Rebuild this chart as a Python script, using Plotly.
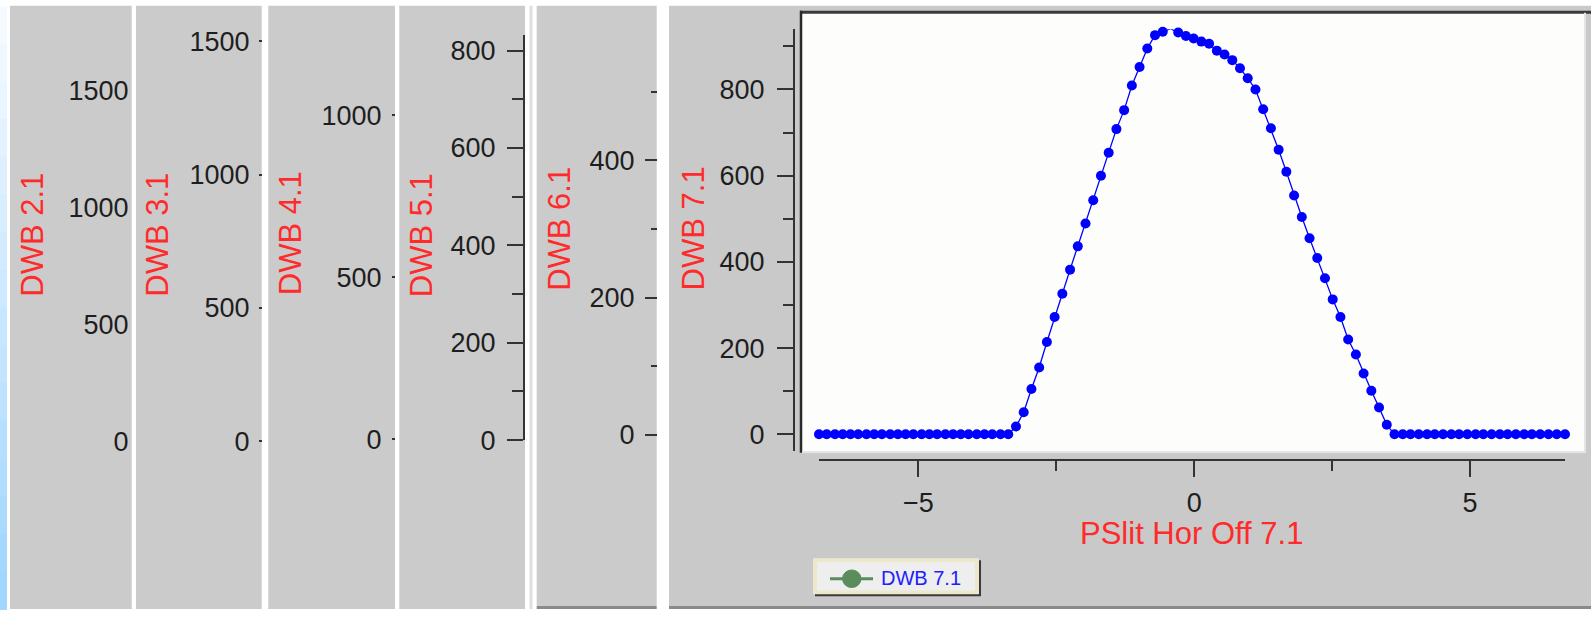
import plotly.graph_objects as go

W, H = 1591, 624
FONT = "Liberation Sans, Arial, sans-serif"

# ---------------- data ----------------
x_values = [
    -6.80, -6.66, -6.51, -6.37, -6.23, -6.09, -5.94, -5.80, -5.66, -5.51, -5.37, -5.23,
    -5.09, -4.94, -4.80, -4.66, -4.51, -4.37, -4.23, -4.09, -3.94, -3.80, -3.66, -3.51,
    -3.37, -3.23, -3.09, -2.95, -2.81, -2.67, -2.53, -2.39, -2.25, -2.11, -1.97, -1.83,
    -1.69, -1.55, -1.41, -1.27, -1.13, -0.99, -0.85, -0.71, -0.57, -0.43, -0.29, -0.15,
    -0.01, 0.13, 0.27, 0.41, 0.55, 0.69, 0.83, 0.97, 1.11, 1.25, 1.39, 1.53,
    1.67, 1.81, 1.95, 2.09, 2.23, 2.37, 2.51, 2.65, 2.79, 2.93, 3.07, 3.21,
    3.35, 3.49, 3.63,
    3.78, 3.92, 4.07, 4.22, 4.36, 4.51, 4.66, 4.80, 4.95, 5.10, 5.24, 5.39,
    5.54, 5.68, 5.83, 5.98, 6.12, 6.27, 6.42, 6.57, 6.72,
]
dwb71_values = [
    0, 0, 0, 0, 0, 0, 0, 0, 0, 0, 0, 0,
    0, 0, 0, 0, 0, 0, 0, 0, 0, 0, 0, 0,
    0, 18, 51, 105, 155, 214, 272, 326, 382, 436, 489, 543,
    600, 653, 708, 752, 809, 852, 895, 926, 934, 941, 932, 924,
    918, 911, 906, 890, 881, 868, 849, 826, 800, 754, 710, 660,
    609, 554, 504, 455, 409, 362, 313, 272, 220, 185, 141, 101,
    62, 22, 0,
    0, 0, 0, 0, 0, 0, 0, 0, 0, 0, 0, 0,
    0, 0, 0, 0, 0, 0, 0, 0, 0,
]

panel_titles = ["DWB 2.1", "DWB 3.1", "DWB 4.1", "DWB 5.1", "DWB 6.1"]
panel_ticks = [
    [0, 500, 1000, 1500],
    [0, 500, 1000, 1500],
    [0, 500, 1000],
    [0, 200, 400, 600, 800],
    [0, 200, 400],
]
main_y_title = "DWB 7.1"
main_x_title = "PSlit Hor Off 7.1"
legend_label = "DWB 7.1"


# ---------------- helpers ----------------
def px(x):
    return x / W


def py(y):
    return 1 - y / H


shapes = []


def rect(x0, y0, x1, y1, color, layer="below", lc=None, lw=0):
    shapes.append(dict(type="rect", xref="paper", yref="paper",
                       x0=px(x0), x1=px(x1), y0=py(y1), y1=py(y0),
                       fillcolor=color, line=dict(width=lw, color=lc or color),
                       layer=layer))


def hline(x0, x1, y, color, w, layer="below"):
    shapes.append(dict(type="line", xref="paper", yref="paper",
                       x0=px(x0), x1=px(x1), y0=py(y), y1=py(y),
                       line=dict(color=color, width=w), layer=layer))


def vline(x, y0, y1, color, w, layer="below"):
    shapes.append(dict(type="line", xref="paper", yref="paper",
                       x0=px(x), x1=px(x), y0=py(y0), y1=py(y1),
                       line=dict(color=color, width=w), layer=layer))


GRAY = "#cbcbcb"

# left gradient strip
n = 16
for i in range(n):
    t = i / (n - 1)
    r = int(245 + (160 - 245) * t)
    g = int(250 + (214 - 250) * t)
    b = 255
    rect(0, 6 + i * (618 / n), 7, 6 + (i + 1) * (618 / n) + 1, f"rgb({r},{g},{b})")

# gray panels
rect(10, 6, 131.7, 624, GRAY)
rect(136, 6, 261.7, 624, GRAY)
rect(268.3, 6, 395, 624, GRAY)
rect(399.3, 6, 525, 624, GRAY)
rect(529.5, 6, 532.5, 624, "#dedede")
rect(536.7, 6, 656.7, 621, GRAY)
rect(669, 6, 1591, 621, "#c9c9c9")
hline(536.7, 656.7, 622.5, "#8a8a8a", 3)
hline(669, 1591, 622.5, "#8a8a8a", 3)

# main plot area
rect(801, 13, 1585, 463, "#fdfefb")
hline(1585, 1591, 13, "#cfcfcf", 1)
hline(800, 1591, 12.5, "#3a3a3a", 3)
vline(801, 11, 464, "#2a2a2a", 2.5)
hline(802, 1585, 463.5, "#e2e2e2", 2)
vline(1585, 13, 464, "#e4e4e4", 2)

# legend box
rect(815, 574, 981, 611, "#3a3a3a", layer="above")
rect(813, 572, 979, 609, "#ece8cc", layer="above")
rect(817, 576, 975, 605, "#eeeeee", layer="above")
hline(830, 873, 593, "#5b8c5b", 3, layer="above")
shapes.append(dict(type="circle", xref="paper", yref="paper",
                   x0=px(842.5), x1=px(861), y0=py(602), y1=py(584),
                   fillcolor="#5b8c5b", line=dict(color="#5b8c5b", width=1),
                   layer="above"))

# ---------------- traces ----------------
fig = go.Figure()
fig.add_trace(go.Scatter(
    x=x_values, y=dwb71_values, mode="lines+markers",
    line=dict(color="#0000ff", width=1.3),
    marker=dict(color="#0000ff", size=10),
    cliponaxis=False, showlegend=False, hoverinfo="skip",
))
for k in range(2, 7):
    fig.add_trace(go.Scatter(x=[None], y=[None], xaxis=f"x{k}", yaxis=f"y{k}",
                             showlegend=False, hoverinfo="skip"))

tickfont = dict(family=FONT, size=27, color="#1e1e1e")
base = dict(showgrid=False, zeroline=False, tickfont=tickfont,
            tickcolor="#333333", tickwidth=2)

layout = dict(
    width=W, height=H, autosize=False,
    margin=dict(l=0, r=0, t=0, b=0, pad=0),
    paper_bgcolor="white", plot_bgcolor="rgba(0,0,0,0)",
    showlegend=False, shapes=shapes,
)

layout["xaxis"] = dict(
    domain=[px(819), px(1565)], range=[-6.80, 6.72], anchor="free", position=py(471),
    tickmode="linear", tick0=0, dtick=5, ticks="outside", ticklen=16,
    ticklabelstandoff=3,
    minor=dict(dtick=2.5, ticks="outside", ticklen=10, tickwidth=2, tickcolor="#333333",
               showgrid=False),
    showline=True, linewidth=2, linecolor="#333333", **base)
layout["yaxis"] = dict(
    domain=[py(462), py(30)], range=[-38.5, 939.6], anchor="free", position=px(794),
    tickmode="linear", tick0=0, dtick=200, ticks="outside", ticklen=16,
    ticklabelstandoff=7,
    minor=dict(dtick=100, ticks="outside", ticklen=10, tickwidth=2, tickcolor="#333333",
               showgrid=False),
    showline=True, linewidth=2, linecolor="#333333", **base)

panel_x = [(10, 131.7), (136, 261.7), (268.3, 395), (399.3, 525), (536.7, 656.7)]
for k in range(2, 7):
    l, r = panel_x[k - 2]
    layout[f"xaxis{k}"] = dict(domain=[px(l), px(r)], range=[0, 1], visible=False,
                               anchor=f"y{k}")

# DWB 2.1 : labels only
layout["yaxis2"] = dict(domain=[py(460), py(10)], range=[-33.4, 1844], anchor="free",
                        position=px(128.5), tickmode="array", tickvals=panel_ticks[0],
                        ticks="", **base)
# DWB 3.1 : tiny ticks
layout["yaxis3"] = dict(domain=[py(460), py(10)], range=[-29.3, 1619], anchor="free",
                        position=px(262), tickmode="array", tickvals=panel_ticks[1],
                        ticks="outside", ticklen=3, ticklabelstandoff=4, **base)
# DWB 4.1 : tiny ticks
layout["yaxis4"] = dict(domain=[py(460), py(10)], range=[-29.5, 1326], anchor="free",
                        position=px(395), tickmode="array", tickvals=panel_ticks[2],
                        ticks="outside", ticklen=3, ticklabelstandoff=5, **base)
# DWB 5.1 : full axis with line and minor ticks
layout["yaxis5"] = dict(domain=[py(451), py(36)], range=[0, 831.7], anchor="free",
                        position=px(524), tickmode="array", tickvals=panel_ticks[3],
                        ticks="outside", ticklen=16, ticklabelstandoff=6,
                        minor=dict(dtick=100, tick0=0, ticks="outside", ticklen=11,
                                   tickwidth=2, tickcolor="#333333", showgrid=False),
                        showline=True, linewidth=2, linecolor="#333333", **base)
# DWB 6.1 : ticks, no line
layout["yaxis6"] = dict(domain=[py(447), py(60)], range=[-1.85, 548.3], anchor="free",
                        position=px(657), tickmode="array", tickvals=panel_ticks[4],
                        ticks="outside", ticklen=12, ticklabelstandoff=5,
                        minor=dict(dtick=100, tick0=0, ticks="outside", ticklen=6,
                                   tickwidth=2, tickcolor="#333333", showgrid=False),
                        **base)

fig.update_layout(**layout)

# titles
title_font = dict(family=FONT, size=31, color="#ff2a2a")
title_pos = [(32.5, 241), (157.5, 241), (290, 239), (421, 241), (559.5, 235)]
for t, (tx, ty) in zip(panel_titles, title_pos):
    fig.add_annotation(x=px(tx), y=py(ty), xref="paper", yref="paper", text=t,
                       textangle=-90, showarrow=False, font=title_font,
                       xanchor="center", yanchor="middle")
fig.add_annotation(x=px(693), y=py(234), xref="paper", yref="paper", text=main_y_title,
                   textangle=-90, showarrow=False, font=title_font,
                   xanchor="center", yanchor="middle")
fig.add_annotation(x=px(1191), y=py(547), xref="paper", yref="paper", text=main_x_title,
                   showarrow=False, font=dict(family=FONT, size=31, color="#ff2a2a"),
                   xanchor="center", yanchor="middle")
fig.add_annotation(x=px(879), y=py(592), xref="paper", yref="paper", text=legend_label,
                   showarrow=False, font=dict(family=FONT, size=20, color="#2020ff"),
                   xanchor="left", yanchor="middle")

page_fix = (
    "var gd=document.getElementById('{plot_id}');"
    "var fix='margin:0;padding:0;overflow:hidden;width:1591px;height:624px;';"
    "document.documentElement.style.cssText=fix;"
    "document.body.style.cssText=fix;"
    "if(gd&&gd.parentElement){gd.parentElement.style.cssText=fix+'line-height:0;font-size:0;';}"
    "window.scrollTo(0,0);"
)

fig.write_html("out.html", config=dict(displayModeBar=False, responsive=False),
               post_script=page_fix)
